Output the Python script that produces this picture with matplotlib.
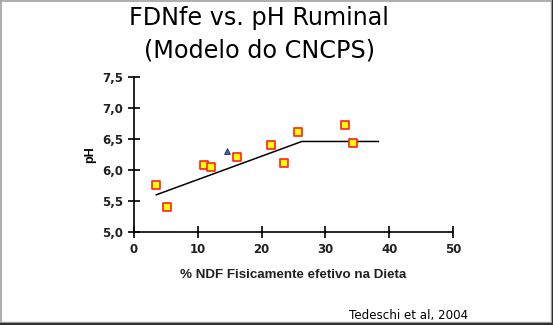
import matplotlib.pyplot as plt
from matplotlib.lines import Line2D

# dados
fdnfe = [3.5, 5.2, 10.9, 12.0, 16.1, 21.5, 23.5, 25.7, 33.1, 34.3]
ph = [5.75, 5.40, 6.08, 6.05, 6.21, 6.41, 6.12, 6.62, 6.73, 6.44]
tri_x = [14.5]
tri_y = [6.30]
modelo_x = [3.5, 26.3, 38.3]
modelo_y = [5.60, 6.46, 6.46]

xticks = [0, 10, 20, 30, 40, 50]
yticks = [5.0, 5.5, 6.0, 6.5, 7.0, 7.5]
ylabels = ['5,0', '5,5', '6,0', '6,5', '7,0', '7,5']

fig = plt.figure(figsize=(5.53, 3.25), dpi=100)
ax = fig.add_axes([0.2423, 0.2862, 0.5769, 0.4769])

ax.plot(modelo_x, modelo_y, color='black', lw=1.1, zorder=2)
ax.scatter(fdnfe, ph, marker='s', s=26, facecolor='#ffff00', edgecolor='#ff2020', linewidths=1.2, zorder=3)
ax.scatter(tri_x, tri_y, marker='^', s=18, facecolor='#4060b0', edgecolor='#203070', linewidths=0.6, zorder=3)

ax.set_xlim(0, 50)
ax.set_ylim(5.0, 7.5)
ax.set_xticks(xticks)
ax.set_yticks(yticks)
ax.set_yticklabels(ylabels)
for s in ['top', 'right']:
    ax.spines[s].set_visible(False)
for s in ['left', 'bottom']:
    ax.spines[s].set_linewidth(1.2)
ax.tick_params(direction='inout', length=8, width=1.2, labelsize=8.5, pad=4)
for lab in ax.get_xticklabels() + ax.get_yticklabels():
    lab.set_fontweight('bold')
    lab.set_color('#202020')

ax.set_xlabel('% NDF Fisicamente efetivo na Dieta', fontsize=9.6, fontweight='bold',
              family='Liberation Sans', color='#202020', labelpad=9)
ax.set_ylabel('pH', fontsize=9, fontweight='bold', family='Liberation Sans', labelpad=4)

fig.text(0.469, 0.946, 'FDNfe vs. pH Ruminal', ha='center', va='center', fontsize=17.2)
fig.text(0.469, 0.846, '(Modelo do CNCPS)', ha='center', va='center', fontsize=17.2)
fig.text(0.846, 0.028, 'Tedeschi et al, 2004', ha='right', va='center', fontsize=8.6)

# moldura
W, H = 553, 325
def px_line(x0, y0, x1, y1, c, lw=1):
    fig.add_artist(Line2D([x0 / W, x1 / W], [1 - y0 / H, 1 - y1 / H], color=c, lw=lw,
                          transform=fig.transFigure))
px_line(0.5, 0, 0.5, 322, '#a0a0a0', 1.2)
px_line(0, 0.5, 551, 0.5, '#a0a0a0', 1.2)
px_line(551, 0, 551, 322, '#a0a0a0', 1)
px_line(0, 322, 551, 322, '#a0a0a0', 1)
px_line(552.5, 0, 552.5, 325, '#303030', 1.5)
px_line(0, 324, 553, 324, '#303030', 1.5)

fig.savefig('out.png', dpi=100)
